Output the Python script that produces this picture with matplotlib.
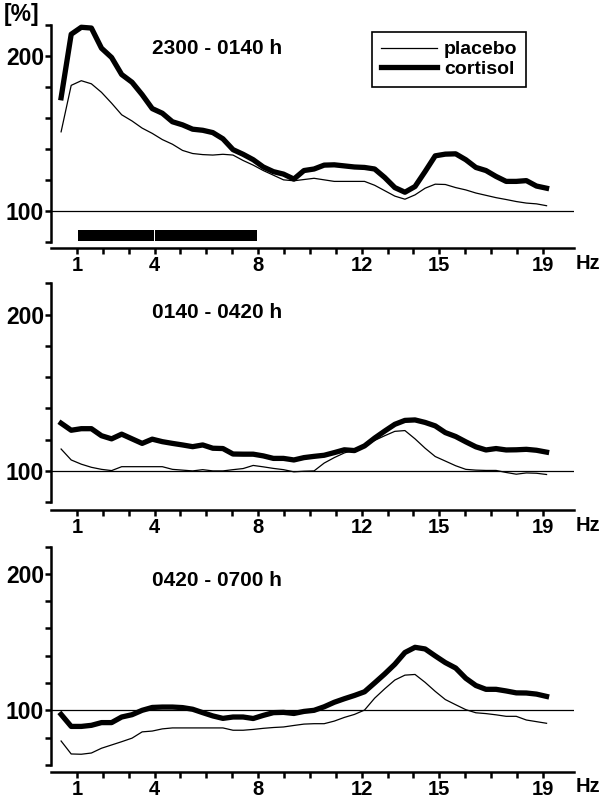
import numpy as np
import matplotlib
matplotlib.use("Agg")
import matplotlib.pyplot as plt

plt.rcParams['font.family'] = ['Liberation Sans', 'DejaVu Sans']
plt.rcParams['font.weight'] = 'bold'

# frequency bins (Hz)
freq = [0.39, 0.78, 1.17, 1.56, 1.95, 2.34, 2.73, 3.13, 3.52, 3.91,
        4.30, 4.69, 5.08, 5.47, 5.86, 6.25, 6.64, 7.03, 7.42, 7.81,
        8.20, 8.59, 8.98, 9.38, 9.77, 10.16, 10.55, 10.94, 11.33, 11.72,
        12.11, 12.50, 12.89, 13.28, 13.67, 14.06, 14.45, 14.84, 15.23, 15.63,
        16.02, 16.41, 16.80, 17.19, 17.58, 17.97, 18.36, 18.75, 19.14]

p1_placebo = [151, 181, 184, 182, 176.5, 169.5, 162, 158, 153.4, 150,
              146, 143, 139, 137, 136.3, 136, 136.5, 136, 132.5, 129.5,
              126, 123, 120, 119.4, 120.2, 121, 120, 119, 119, 119,
              119, 116.5, 113, 109.5, 107.5, 110.3, 114.6, 117.2, 117, 115,
              113.5, 111.5, 110, 108.5, 107.3, 106, 105, 104.5, 103.3]
p1_cortisol = [173, 214, 218.5, 218, 205, 199, 188, 183, 175, 166,
               163, 157.5, 155.5, 152.7, 152, 150.5, 146.5, 139.5, 136.5, 133,
               128.3, 125.3, 123.7, 120.5, 126, 127, 129.5, 129.7, 129, 128.3,
               128, 127, 121.5, 115, 112, 115.7, 125.4, 135.5, 136.6, 136.8,
               133, 128, 126, 122.2, 119, 119, 119.5, 116, 114.6]

p2_placebo = [114, 107, 104.3, 102.3, 101, 100.2, 102.7, 102.7, 102.7, 102.7,
              102.7, 101, 100.5, 100, 100.8, 100, 100, 100.8, 101.5, 103.5,
              102.6, 101.6, 100.8, 99.4, 99.8, 100, 105, 108.5, 111.5, 113.5,
              116.3, 119.5, 122.5, 125.3, 125.8, 120.5, 114.5, 109.2, 106.3, 103.3,
              101, 100.5, 100.3, 100.3, 99, 97.9, 98.7, 98.5, 97.7]
p2_cortisol = [130.5, 126, 127, 127, 122.5, 120.5, 123.5, 120.5, 117.6, 120.3,
               118.7, 117.6, 116.6, 115.5, 116.6, 114.5, 114.3, 110.8, 110.7, 110.7,
               109.6, 108, 108, 107, 108.5, 109.3, 110, 111.7, 113.5, 113,
               116, 121, 125.5, 129.8, 132.3, 132.6, 131, 128.8, 124.5, 122,
               118.6, 115.4, 113.4, 114.3, 113.4, 113.5, 113.8, 113.2, 112]

p3_placebo = [77.5, 68, 67.8, 68.7, 72.2, 74.6, 77, 79.6, 84.2, 84.8,
              86.4, 87.1, 87.1, 87.1, 87.1, 87.1, 87.1, 85.4, 85.4, 86,
              86.8, 87.4, 87.8, 88.9, 89.9, 90.2, 90.2, 92.1, 94.8, 97,
              100.2, 108.9, 115.8, 122.2, 125.8, 126.3, 120.5, 113.9, 107.9, 104.1,
              100.5, 98.2, 97.6, 96.7, 95.6, 95.6, 92.9, 91.7, 90.5]
p3_cortisol = [97, 88.2, 88.2, 89, 91, 91, 95.1, 96.8, 100, 102.1,
               102.4, 102.4, 102, 100.8, 98.3, 95.9, 94.1, 95.1, 95.1, 94,
               96.3, 98.3, 98.5, 97.7, 99.2, 100, 102.6, 105.9, 108.5, 110.9,
               113.6, 120.1, 126.7, 133.8, 142.4, 146.2, 145, 139.9, 135, 131,
               123.5, 118.2, 115.4, 115.4, 114.2, 112.8, 112.7, 111.9, 110.2]

titles = ["2300 - 0140 h", "0140 - 0420 h", "0420 - 0700 h"]
placebo = [p1_placebo, p2_placebo, p3_placebo]
cortisol = [p1_cortisol, p2_cortisol, p3_cortisol]
y_ranges = [(80, 220), (80, 220), (60, 220)]
xtick_labels = [1, 4, 8, 12, 15, 19]
sig_bands = [(1, 4), (4, 8)]   # significant frequency ranges, panel 1

W, H = 600, 806
fig = plt.figure(figsize=(W / 100, H / 100), dpi=100)

# axes boxes in pixels: (top_px, bottom_px, ylim_lo, ylim_hi)
boxes = [(23.4, 248, 76, 221), (281.7, 510, 75, 221), (545.3, 771.7, 55, 221)]
title_y = [48, 313, 580]

for i in range(3):
    top, bot, ylo, yhi = boxes[i]
    ax = fig.add_axes([51 / W, 1 - bot / H, 523 / W, (bot - top) / H])
    ax.set_xlim(0, 20.2)
    ax.set_ylim(ylo, yhi)

    ax.axhline(100, color='black', lw=0.9, zorder=1)
    ax.plot(freq, placebo[i], color='black', lw=0.9, label='placebo', zorder=2)
    ax.plot(freq, cortisol[i], color='black', lw=3.8, label='cortisol', zorder=3)

    for s in ['top', 'right']:
        ax.spines[s].set_visible(False)
    ax.spines['left'].set_bounds(*y_ranges[i])
    ax.spines['left'].set_linewidth(1.8)
    ax.spines['bottom'].set_linewidth(1.8)

    yt = list(range(y_ranges[i][0], y_ranges[i][1] + 1, 20))
    ax.set_yticks(yt)
    ax.set_yticklabels([str(v) if v in (100, 200) else '' for v in yt])
    ax.set_xticks(range(1, 20))
    ax.set_xticklabels([str(v) if v in xtick_labels else '' for v in range(1, 20)])
    ax.tick_params(direction='out', length=4, width=1.8, labelsize=14.5, pad=2)
    ax.tick_params(axis='y', labelsize=16.5, pad=1)
    for lab in ax.get_xticklabels() + ax.get_yticklabels():
        lab.set_fontweight('bold')

    ax.annotate('Hz', xy=(1, 0), xycoords='axes fraction', xytext=(1, -4),
                textcoords='offset points', ha='left', va='top',
                fontsize=14.5, fontweight='bold')

    fig.text(152 / W, 1 - title_y[i] / H, titles[i], ha='left', va='center',
             fontsize=15, fontweight='bold')

    if i == 0:
        ax.broken_barh([(a + 0.03, b - a - 0.06) for a, b in sig_bands], (80.3, 7),
                       facecolor='black', edgecolor='none')
        leg = ax.legend(loc='upper left', bbox_to_anchor=(372 / W, 1 - 32 / H),
                        bbox_transform=fig.transFigure, borderaxespad=0,
                        fancybox=False, edgecolor='black', framealpha=1,
                        handlelength=2.9, handletextpad=0.35, borderpad=0.45,
                        labelspacing=0.1, prop={'size': 14, 'weight': 'bold'})
        leg.get_frame().set_linewidth(1.2)

fig.text(4 / W, 1 - 15 / H, '[%]', ha='left', va='center', fontsize=16.5,
         fontweight='bold')

fig.savefig('out.png', dpi=100)
